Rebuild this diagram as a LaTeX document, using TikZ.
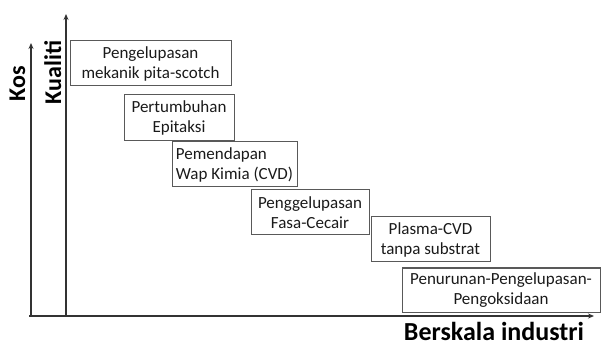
\documentclass[tikz,border=0pt]{standalone}
\usepackage{fontspec}
\setmainfont{Carlito}
\usetikzlibrary{arrows.meta}
\definecolor{axiscol}{HTML}{333333}
\definecolor{boxcol}{HTML}{595959}
\definecolor{txtcol}{HTML}{1A1A1A}
\begin{document}
\begin{tikzpicture}[x=1pt,y=1pt,
  box/.style={draw=boxcol, line width=1pt, inner sep=0pt, align=center, text=txtcol,
    font=\fontsize{17}{20}\selectfont},
  axisline/.style={draw=axiscol, line width=1.8pt, -{Stealth[length=6pt,width=5pt]}},
  axislabel/.style={font=\bfseries\fontsize{24}{28}\selectfont, text=black, inner sep=0pt}]
\useasboundingbox (0,0) rectangle (601,345);
% axes
\coordinate (o1) at (31,29);
\coordinate (t1) at (31,302);
\coordinate (o2) at (66,29);
\coordinate (t2) at (66,331);
\coordinate (ox) at (29,29);
\coordinate (tx) at (594,29);
\draw[axisline] (o1) -- (t1);
\draw[axisline] (o2) -- (t2);
\draw[axisline] (ox) -- (tx);
% labels
\node[axislabel, rotate=90, anchor=base] (kos) at (25,261) {Kos};
\node[axislabel, rotate=90, anchor=base] (kual) at (61,272.5) {Kualiti};
\node[axislabel, anchor=base, font=\bfseries\fontsize{26}{30}\selectfont] (bers) at (494,4.5) {Berskala industri};
% boxes
\node[box, minimum width=161pt, minimum height=45pt] (b1) at (150.5,281.5) {Pengelupasan\\mekanik pita-scotch};
\node[box, minimum width=110pt, minimum height=46pt] (b2) at (179,227) {Pertumbuhan\\Epitaksi};
\node[box, minimum width=125pt, minimum height=45pt, align=left] (b3) at (234.5,180.5) {Pemendapan\\Wap Kimia (CVD)};
\node[box, minimum width=118pt, minimum height=45pt] (b4) at (310,132.5) {Penggelupasan\\Fasa-Cecair};
\node[box, minimum width=119pt, minimum height=45pt] (b5) at (430.5,105.5) {Plasma-CVD\\tanpa substrat};
\node[box, minimum width=198pt, minimum height=44pt] (b6) at (501,55) {Penurunan-Pengelupasan-\\Pengoksidaan};
\end{tikzpicture}
\end{document}
